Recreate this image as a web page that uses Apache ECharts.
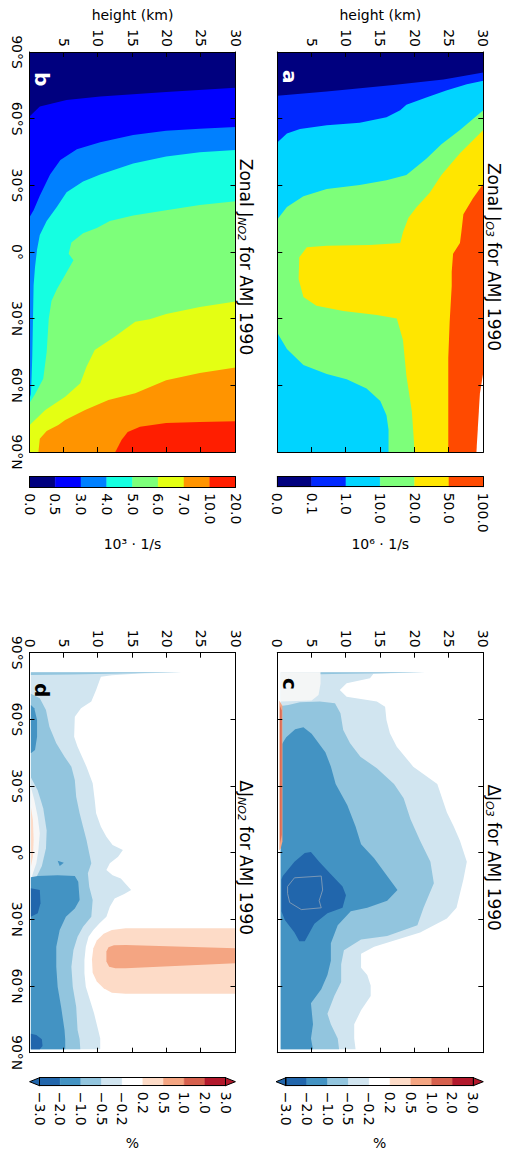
<!DOCTYPE html>
<html>
<head>
<meta charset="utf-8">
<script src="https://cdn.jsdelivr.net/npm/echarts@6/dist/echarts.min.js"></script>
<style>
  html, body { margin: 0; padding: 0; width: 510px; height: 1152px; overflow: hidden; background: #fff; }
  /* the figure is laid out landscape and turned a quarter turn clockwise */
  #chart { position: absolute; left: 0; top: 0; width: 1152px; height: 510px;
           transform-origin: 0 0; transform: translate(510px, 0) rotate(90deg); }
</style>
</head>
<body>
<div id="chart"></div>
<script>
// ---- tick labels ----
const latLabels = ['90°S', '60°S', '30°S', '0°', '30°N', '60°N', '90°N'];
const heightLabels = ['0', '5', '10', '15', '20', '25', '30'];
const o3Levels = ['0.0', '0.1', '1.0', '10.0', '20.0', '50.0', '100.0'];
const no2Levels = ['0.0', '0.5', '3.0', '4.0', '5.0', '6.0', '7.0', '10.0', '20.0'];
const diffLevels = ['−3.0', '−2.0', '−1.0', '−0.5', '−0.2', '0.2', '0.5', '1.0', '2.0', '3.0'];

// ---- contour regions, points are [latitude, height km] ----
// a: zonal J_O3, region above each level
const o3Base = [[-90, 0], [-90, 30], [90, 30], [90, 0]];
const o3Gt01 = [[-70.3, 0], [-72.2, 7.2], [-75.1, 16.9], [-77.6, 24.2], [-80.8, 30], [90, 30], [90, 0]];
const o3Gt1 = [[-49.3, 0], [-53.3, 1.4], [-55.4, 3.3], [-57.0, 7.2], [-58.2, 12.0], [-60.6, 15.9], [-63.8, 17.9],
  [-66.3, 18.8], [-69.5, 21.7], [-72.7, 24.6], [-75.5, 27.6], [-77.1, 30], [90, 30], [90, 0]];
const o3Gt10 = [[-63.8, 30], [-54.9, 26.6], [-48.5, 23.9], [-42.0, 21.7], [-34.7, 18.8], [-32.3, 15.9], [-30.2, 12.0],
  [-28.3, 7.2], [-25.1, 3.8], [-20.2, 1.4], [-14.6, 0], [36.3, 0], [43.6, 1.4], [50.9, 3.8], [54.9, 7.2], [57.3, 10.1],
  [61.4, 13.0], [67.0, 15.0], [73.5, 15.9], [80.0, 16.2], [90, 16.2], [90, 30]];
const o3Gt20 = [[-54.9, 30], [-44.4, 26.6], [-34.7, 23.9], [-26.7, 22.2], [-20.2, 20.3], [-15.4, 19.1], [-8.9, 18.3],
  [-4.1, 17.9], [-3.2, 13.5], [-2.8, 7.2], [-2.1, 4.3], [2.4, 3.2], [12.1, 3.1], [20.2, 3.8], [24.2, 5.7], [26.6, 9.6],
  [28.3, 14.5], [29.9, 17.4], [39.6, 18.3], [55.7, 18.8], [71.9, 19.6], [90, 20.0], [90, 30]];
const o3Gt50 = [[-30.7, 30], [-24.2, 28.5], [-17.0, 27.1], [-8.9, 26.8], [-4.1, 26.6], [0.8, 25.6], [8.9, 25.4],
  [15.3, 25.4], [31.5, 25.1], [47.6, 24.9], [63.8, 24.9], [90, 24.9], [90, 30]];
const o3Gt100 = [[54.1, 30], [63.8, 29.5], [90, 29.0], [90, 30]];

// b: zonal J_NO2
const no2Base = [[-90, 0], [-90, 30], [90, 30], [90, 0]];
const no2Gt05 = [[-61.0, 0], [-65.5, 1.5], [-68.4, 5.4], [-70.0, 10.3], [-72.0, 19.9], [-73.9, 30], [90, 30], [90, 0]];
const no2Gt3 = [[-56.2, 30], [-55.5, 24.8], [-54.6, 19.9], [-52.6, 15.1], [-49.4, 10.3], [-46.2, 6.9], [-41.4, 4.5],
  [-34.9, 3.0], [-25.3, 1.5], [-18.8, 0.6], [-15.6, 0], [90, 0], [90, 30]];
const no2Gt4 = [[-45.9, 30], [-44.9, 24.8], [-43.0, 19.9], [-39.8, 15.1], [-34.9, 10.3], [-31.7, 7.8], [-26.9, 5.4],
  [-20.4, 4.0], [-14.0, 2.5], [-7.6, 1.5], [-1.1, 1.1], [6.9, 0.8], [15.0, 0.6], [31.1, 0.5], [47.2, 0.4], [56.9, 0.3],
  [64, 0.2], [66, 0], [90, 0], [90, 30]];
const no2Gt5 = [[-22.8, 30], [-21.2, 24.8], [-18.8, 19.9], [-16.4, 15.1], [-14.0, 11.7], [-10.8, 9.8], [-8.4, 7.8],
  [-4.3, 6.1], [0.8, 5.7], [3.7, 6.4], [10.2, 5.2], [16.6, 4.0], [22, 3.2], [30, 2.8], [45, 2.5], [57, 2.0], [64, 0.8],
  [68, 0], [90, 0], [90, 30]];
const no2Gt6 = [[22.3, 30], [24.7, 24.8], [27.9, 19.9], [30.3, 17.5], [31.4, 15.4], [38.1, 12.4], [44.1, 9.5],
  [51.6, 8.3], [59.1, 7.4], [65.1, 5.2], [71.1, 2.3], [77.1, 0.3], [78, 0], [90, 0], [90, 30]];
const no2Gt7 = [[52.0, 30], [54.4, 24.8], [57.7, 19.9], [63.6, 15.4], [66.6, 11.5], [71.1, 8.1], [75.6, 5.2],
  [77.9, 4.2], [80.5, 2.5], [84, 1.5], [90, 1.3], [90, 30]];
const no2Gt10 = [[76.2, 30], [76.5, 24.8], [77.0, 19.9], [78.6, 16.1], [81.0, 14.3], [84.6, 13.4], [90, 12.5], [90, 30]];

// c: change of J_O3 (%)
const dO3Neg02 = [[-81.2, 0.5], [-81.2, 21.5], [-80.5, 14], [-78.5, 13.5], [-76.2, 10.1], [-73.2, 9.1], [-70.2, 10.1],
  [-68, 14.5], [-65.7, 15.7], [-59.7, 15.9], [-53.7, 16.4], [-47.7, 17.4], [-38.7, 19.8], [-30.9, 23.3], [-18.1, 24.7],
  [-11.8, 25.7], [-5.4, 26.6], [4.1, 27.6], [12.1, 27.1], [18.4, 26.6], [24.8, 26.1], [29.6, 24.7], [35.9, 20.8],
  [42.3, 14.1], [45.5, 12.2], [51.8, 12.2], [55.0, 13.1], [59.8, 13.6], [64.5, 13.6], [70.9, 12.2], [77.2, 11.2],
  [83.6, 11.2], [88.5, 11.4], [88.5, 0.5]];
const dO3Polar = [[-81.2, 0.5], [-81.2, 6.3], [-76, 6.3], [-71, 6.0], [-68.5, 5.0], [-68, 0.5]];
const dO3Spike = [[-81.2, 6.3], [-81.2, 21.5], [-80.7, 15], [-80.4, 8], [-80.3, 6.3]];
const dO3Neg05 = [[-66, 0.5], [-66.5, 1.6], [-67.7, 3.3], [-68, 6.2], [-67.2, 8.4], [-62.7, 9.2], [-55.2, 9.6],
  [-49.2, 10.6], [-43.2, 12.1], [-38, 14.5], [-30.9, 17.0], [-24.5, 18.4], [-15.0, 19.4], [-5.4, 20.8], [4.1, 22.3],
  [13.7, 22.8], [24.8, 21.3], [32.7, 20.4], [37.5, 16.0], [39.1, 12.2], [43.9, 9.7], [50.2, 9.3], [58.2, 9.3],
  [64.5, 8.3], [72.5, 7.3], [77.2, 7.8], [83.6, 8.8], [88.5, 9.0], [88.5, 0.5]];
const dO3Neg1 = [[-48, 0.5], [-52, 1.3], [-55.5, 2.6], [-56.4, 3.8], [-53.5, 5.0], [-45.2, 7.0], [-38.8, 7.8],
  [-30.9, 8.5], [-21.3, 10.2], [-11.8, 11.4], [-3.8, 12.2], [2.5, 14.1], [10.5, 16.0], [16.8, 17.5], [21.6, 16.0],
  [24.8, 13.1], [26.4, 10.7], [32.7, 8.8], [40.7, 7.8], [48.6, 7.8], [55.0, 7.3], [61.4, 6.4], [67.7, 4.9],
  [77.2, 5.2], [83.6, 4.9], [88.5, 5.2], [88.5, 0.5]];
const dO3Neg2 = [[12.1, 0.6], [10.5, 0.8], [4.1, 2.5], [0.1, 4.0], [-0.3, 4.9], [4.1, 6.1], [9.7, 7.8], [15.2, 9.5],
  [19.2, 10.0], [24.8, 9.5], [27.2, 7.3], [32.0, 5.4], [39.9, 4.0], [39.9, 3.2], [35.9, 2.5], [30.3, 1.1], [26.4, 0.6]];
const dO3Neg3 = [[15.2, 1.5], [11.3, 2.5], [10.5, 6.4], [16.8, 6.6], [21.6, 6.1], [24.8, 6.4], [25.6, 3.5],
  [22.4, 1.8], [18.4, 1.5]];
const dO3PosOuter = [[-68.5, 0.3], [-66, 0.75], [-5, 0.75], [-2, 0.5], [-1, 0.3]];
const dO3PosInner = [[-66, 0.42], [-64, 0.63], [-8, 0.63], [-4, 0.42]];

// d: change of J_NO2 (%)
const dNo2Neg02 = [[-81.2, 0.2], [-81.2, 22.2], [-80.6, 16], [-79.8, 12], [-79.2, 10.4], [-73.2, 9.7], [-68, 9.0],
  [-65, 7.5], [-61.2, 6.6], [-52.2, 6.5], [-47.7, 7.0], [-38.7, 8.3], [-31.2, 9.2], [-23.7, 9.5], [-17.7, 9.7],
  [-11.7, 10.4], [-7.2, 11.2], [-3.5, 12.1], [-1.2, 13.6], [1.8, 12.9], [4.8, 11.7], [7.8, 11.2], [10.1, 12.1],
  [11.6, 13.3], [16.8, 14.8], [18.6, 13.8], [20.6, 12.4], [24.3, 11.7], [28.8, 11.2], [31.8, 10.2], [34.8, 9.3],
  [37.8, 8.6], [42.3, 8.2], [48.3, 8.0], [54.3, 8.0], [60.3, 8.2], [66.3, 8.8], [72.3, 9.4], [79.8, 10.0],
  [83.6, 10.3], [88.5, 10.3], [88.5, 0.2]];
const dNo2Spike = [[-81.2, 0.2], [-81.2, 22.2], [-80.7, 15], [-80.2, 6], [-80.0, 0.2]];
const dNo2Neg05 = [[-71.5, 0.2], [-69.5, 1.5], [-64.2, 2.4], [-56.7, 2.9], [-49.2, 3.9], [-43.2, 5.1], [-38.7, 6.1],
  [-32.7, 6.6], [-25.2, 6.8], [-17.7, 7.3], [-11.7, 7.8], [-5.7, 8.3], [0.3, 8.7], [4.8, 9.0], [9.3, 8.5],
  [15.3, 8.7], [21.3, 9.2], [28.8, 9.0], [33.3, 7.8], [37.8, 7.0], [43.8, 6.4], [51.3, 6.1], [60.3, 6.3],
  [69.3, 6.8], [79.8, 7.0], [84, 7.3], [88.5, 7.4], [88.5, 0.2]];
const dNo2Halo = [[-34, 0.2], [-28, 1.2], [-20, 2.0], [-10, 2.5], [-2, 2.4], [6, 1.8], [11, 1.0], [14, 0.2]];
const dNo2Zero = [[-29.7, 0.2], [-23.7, 0.7], [-16.2, 1.2], [-8.7, 1.5], [-1.2, 1.3], [4.8, 1.0], [9.3, 0.5], [12.3, 0.2]];
const dNo2PosStrip = [[-20.7, 0.2], [-14.7, 0.5], [-5.7, 0.6], [1.8, 0.5], [6.3, 0.2]];
const dNo2Neg1Top = [[-66.5, 0.2], [-65, 0.7], [-59.7, 1.1], [-52.2, 1.1], [-46.2, 0.8], [-44.7, 0.2]];
const dNo2Neg1 = [[11.1, 0.2], [10.5, 1.2], [10.1, 4.1], [10.5, 6.6], [13.1, 7.1], [21.3, 7.3], [25.1, 6.6],
  [28.8, 5.3], [34.8, 4.4], [42.3, 3.9], [51.3, 3.9], [60.3, 4.1], [69.3, 4.6], [79.8, 5.1], [84, 5.2],
  [88.5, 5.2], [88.5, 0.2]];
const dNo2Neg1Dot = [[3.6, 4.1], [4.5, 5.0], [6.0, 4.4]];
const dNo2Neg2 = [[16, 0.2], [16.8, 1.5], [22.8, 1.6], [27.3, 1.2], [28.8, 0.2]];
const dNo2Neg2b = [[81.5, 0.2], [82, 1.0], [84, 1.8], [87, 1.9], [88.5, 1.5], [88.5, 0.2]];
const dNo2Pos02 = [[34.0, 30], [34.0, 14], [34.8, 12], [36.5, 10.8], [39.5, 9.8], [43, 9.3], [48, 9.1], [54, 9.2],
  [58, 9.8], [61, 10.8], [63, 12], [63.5, 14], [63.5, 30]];
const dNo2Pos05 = [[43.0, 30], [41.5, 14], [41.6, 12.3], [42.5, 11.5], [44.5, 11.2], [49, 11.2], [51.3, 11.6],
  [52, 12.5], [52, 14], [49.8, 30]];

// ---- colours ----
const o3Colors = ['#00007f', '#0028ff', '#00d4ff', '#7dff7a', '#ffe600', '#ff4a00'];
const no2Colors = ['#00007f', '#0000ff', '#0080ff', '#15ffe1', '#7dff7a', '#e4ff13', '#ff9400', '#ff1e00'];
const diffColors = ['#2166ac', '#4393c3', '#92c5de', '#d1e5f0', '#ffffff', '#fddbc7', '#f4a582', '#d6604d', '#b2182b'];
const diffUnder = '#2166ac';
const diffOver = '#b2182b';

const FONT = 'DejaVu Sans';
const TITLE_OFF = 247.8; // vertical offset of the lower row

const panels = [
  {
    grid: { left: 52, top: 26.7, width: 400, height: 206 },
    shapes: [o3Base, o3Gt01, o3Gt1, o3Gt10, o3Gt20, o3Gt50, o3Gt100],
    fills: [...o3Colors, '#ffffff'],
    latLabels: false, zero: false, axisName: 'height (km)',
    tag: 'a', tagColor: '#fff', tagPos: [65, 205],
    title: 'Zonal J{sub|O3} for AMJ 1990', titlePos: [252, 1]
  },
  {
    grid: { left: 52, top: 274.5, width: 400, height: 206 },
    shapes: [no2Base, no2Gt05, no2Gt3, no2Gt4, no2Gt5, no2Gt6, no2Gt7, no2Gt10],
    fills: no2Colors,
    latLabels: true, zero: false, axisName: 'height (km)',
    tag: 'b', tagColor: '#fff', tagPos: [67, 453],
    title: 'Zonal J{sub|NO2} for AMJ 1990', titlePos: [252, 1 + TITLE_OFF]
  },
  {
    grid: { left: 652.7, top: 26.7, width: 400, height: 206 },
    shapes: [dO3Neg02, dO3Polar, dO3Spike, dO3Neg05, dO3Neg1, dO3Neg2, dO3Neg3, dO3PosOuter, dO3PosInner],
    fills: ['#d1e5f0', '#f4f6f6', '#92c5de', '#92c5de', '#4393c3', '#2166ac', '#2166ac', '#f4a582', '#d6604d'],
    strokes: [null, null, null, null, null, null, '#8fa3b8', null, null],
    latLabels: false, zero: true, axisName: '',
    tag: 'c', tagColor: '#000', tagPos: [673, 205],
    title: 'ΔJ{sub|O3} for AMJ 1990', titlePos: [852.7, 1]
  },
  {
    grid: { left: 652.7, top: 274.5, width: 400, height: 206 },
    shapes: [dNo2Neg02, dNo2Spike, dNo2Neg05, dNo2Halo, dNo2Zero, dNo2PosStrip, dNo2Neg1Top, dNo2Neg1, dNo2Neg1Dot,
      dNo2Neg2, dNo2Neg2b, dNo2Pos02, dNo2Pos05],
    fills: ['#d1e5f0', '#92c5de', '#92c5de', '#d1e5f0', '#f7f7f7', '#fddbc7', '#4393c3', '#4393c3', '#4393c3',
      '#2166ac', '#2166ac', '#fddbc7', '#f4a582'],
    latLabels: true, zero: true, axisName: '',
    tag: 'd', tagColor: '#000', tagPos: [678, 453],
    title: 'ΔJ{sub|NO2} for AMJ 1990', titlePos: [852.7, 1 + TITLE_OFF]
  }
];

const colorbars = [
  { grid: { left: 476.7, top: 26.7, width: 10, height: 206 }, colors: o3Colors, levels: o3Levels, unit: '10⁶ · 1/s', arrows: false },
  { grid: { left: 476.7, top: 274.5, width: 10.5, height: 206 }, colors: no2Colors, levels: no2Levels, unit: '10³ · 1/s', arrows: false },
  { grid: { left: 1077.7, top: 36.7, width: 8, height: 187.3 }, colors: diffColors, levels: diffLevels, unit: '%', arrows: true },
  { grid: { left: 1077.7, top: 284.5, width: 8, height: 186 }, colors: diffColors, levels: diffLevels, unit: '%', arrows: true }
];
const ARROW = 0.48; // arrow length in band units

const grids = [], xAxes = [], yAxes = [], series = [], titles = [];
const black = { color: '#000', width: 1 };

function frameAxis(k, pos, extra) {
  return Object.assign({
    gridIndex: k, type: 'value', position: pos, z: 10,
    axisLine: { show: true, onZero: false, lineStyle: black },
    axisTick: { show: false }, axisLabel: { show: false },
    splitLine: { show: false }
  }, extra);
}

panels.forEach((p, k) => {
  grids.push(Object.assign({ outerBoundsMode: 'none', containLabel: false }, p.grid));
  const latOpt = (labels) => ({
    min: -90, max: 90, interval: 30,
    axisTick: { show: true, inside: true, length: 5, lineStyle: { color: '#000' } },
    axisLabel: {
      show: labels, margin: 6, color: '#000', fontSize: 14, fontFamily: FONT,
      showMinLabel: true, showMaxLabel: true,
      formatter: (v) => latLabels[Math.round((v + 90) / 30)]
    }
  });
  const hOpt = (labels) => ({
    min: 0, max: 30, interval: 5,
    axisTick: { show: true, inside: true, length: 5, lineStyle: { color: '#000' } },
    axisLabel: {
      show: labels, margin: 5, color: '#000', fontSize: 14, fontFamily: FONT,
      showMinLabel: true, showMaxLabel: true,
      formatter: (v) => (v === 0 && !p.zero) ? '' : heightLabels[Math.round(v / 5)]
    }
  });
  xAxes.push(frameAxis(k, 'bottom', latOpt(p.latLabels)), frameAxis(k, 'top', latOpt(false)));
  const left = frameAxis(k, 'left', hOpt(true));
  if (p.axisName) {
    Object.assign(left, {
      name: p.axisName, nameLocation: 'middle', nameGap: 30, nameRotate: 90,
      nameTextStyle: { color: '#000', fontSize: 14, fontFamily: FONT }
    });
  }
  yAxes.push(left, frameAxis(k, 'right', hOpt(false)));

  series.push({
    type: 'custom', coordinateSystem: 'cartesian2d', xAxisIndex: 2 * k, yAxisIndex: 2 * k,
    clip: true, silent: true, z: 2,
    data: p.shapes.map((s, i) => [i]),
    renderItem: (params, api) => {
      const i = params.dataIndex;
      const stroke = p.strokes ? p.strokes[i] : null;
      return {
        type: 'polygon',
        shape: { points: p.shapes[i].map((pt) => api.coord(pt)) },
        style: { fill: p.fills[i], stroke: stroke || null, lineWidth: stroke ? 0.8 : 0 }
      };
    }
  });

  titles.push({
    text: p.title, left: p.titlePos[0], top: p.titlePos[1], textAlign: 'center',
    textStyle: {
      fontSize: 17, fontWeight: 'normal', color: '#000', fontFamily: FONT, lineHeight: 20,
      rich: { sub: { fontSize: 11, fontStyle: 'italic', color: '#000', fontFamily: FONT, lineHeight: 12, verticalAlign: 'bottom' } }
    }
  });
  titles.push({
    text: p.tag, left: p.tagPos[0], top: p.tagPos[1],
    textStyle: { fontSize: 20, fontWeight: 'bold', color: p.tagColor, fontFamily: FONT }
  });
});

colorbars.forEach((cb, j) => {
  const k = panels.length + j;
  const n = cb.colors.length;
  grids.push(Object.assign({ outerBoundsMode: 'none', containLabel: false }, cb.grid));
  xAxes.push(frameAxis(k, 'bottom', { min: 0, max: 1 }), frameAxis(k, 'top', { min: 0, max: 1 }));
  yAxes.push(
    frameAxis(k, 'left', { min: 0, max: n, interval: 1 }),
    frameAxis(k, 'right', {
      min: 0, max: n, interval: 1,
      axisLabel: {
        show: true, margin: 6, color: '#000', fontSize: 14, fontFamily: FONT,
        showMinLabel: true, showMaxLabel: true,
        formatter: (v) => cb.levels[Math.round(v)]
      },
      name: cb.unit, nameLocation: 'middle', nameGap: 50, nameRotate: 90,
      nameTextStyle: { color: '#000', fontSize: 14, fontFamily: FONT }
    })
  );
  const items = cb.colors.map((c, i) => [i]);
  if (cb.arrows) items.push([n], [n + 1]);
  series.push({
    type: 'custom', coordinateSystem: 'cartesian2d', xAxisIndex: 2 * k, yAxisIndex: 2 * k,
    clip: false, silent: true, z: 2,
    data: items,
    renderItem: (params, api) => {
      const i = params.dataIndex;
      if (i < n) {
        const p0 = api.coord([0, i]);
        const p1 = api.coord([1, i + 1]);
        return {
          type: 'rect',
          shape: { x: p0[0], y: p1[1], width: p1[0] - p0[0], height: p0[1] - p1[1] },
          style: { fill: cb.colors[i], stroke: cb.colors[i], lineWidth: 0.5 }
        };
      }
      const under = i === n;
      const base = under ? 0 : n;
      const tip = under ? -ARROW : n + ARROW;
      return {
        type: 'polygon',
        shape: { points: [api.coord([0, base]), api.coord([1, base]), api.coord([0.5, tip])] },
        style: { fill: under ? diffUnder : diffOver, stroke: '#000', lineWidth: 1 }
      };
    }
  });
});

const chart = echarts.init(document.getElementById('chart'), null, { renderer: 'svg', width: 1152, height: 510 });
chart.setOption({
  animation: false,
  backgroundColor: '#fff',
  textStyle: { fontFamily: FONT },
  title: titles,
  grid: grids,
  xAxis: xAxes,
  yAxis: yAxes,
  series: series
});
</script>
</body>
</html>
